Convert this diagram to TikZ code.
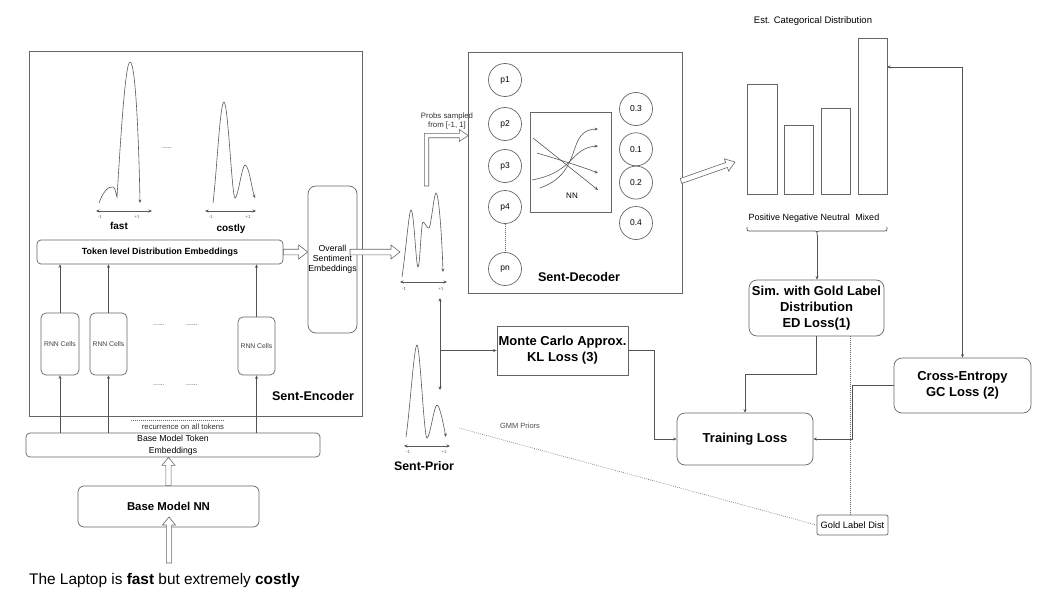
\documentclass[tikz,border=0pt]{standalone}
\usepackage{fontspec}
\setmainfont{Liberation Sans}
\usetikzlibrary{arrows.meta,calc}
\newcommand\myfs[2]{\fontsize{#1}{#2}\selectfont}
% hollow (outlined) arrow: start, end, shaft half width, head half width, head length
\newcommand\hollowarrow[5]{%
  \draw[hollow] let \p1=(#1), \p2=(#2),
      \n1={atan2(\y2-\y1,\x2-\x1)}, \n2={veclen(\x2-\x1,\y2-\y1)-#5pt} in
    ($(\p1)+(\n1+90:#3pt)$) -- ++(\n1:\n2) -- ++(\n1+90:#4pt-#3pt) -- (\p2)
    -- ($(\p2)+(\n1+180:#5pt)+(\n1-90:#4pt)$) -- ++(\n1+90:#4pt-#3pt)
    -- ++(\n1+180:\n2) -- cycle;}
\begin{document}
\begin{tikzpicture}[x=1pt,y=-1pt,
  cbox/.style={draw=black!60, line width=0.7pt, inner sep=0pt, align=center},
  conn/.style={draw=black!68, line width=0.7pt},
  arr/.style={-{Stealth[length=3.5pt,width=3pt]}},
  biarr/.style={{Stealth[length=3.5pt,width=3pt]}-{Stealth[length=3.5pt,width=3pt]}},
  dist/.style={draw=black!65, line width=0.6pt},
  hollow/.style={draw=black!60, fill=white, line width=0.6pt, line join=miter},
  dotline/.style={draw=black!60, line width=0.6pt, dash pattern=on 0.7pt off 1.3pt},
  axl/.style={font=\myfs{4.5}{5}, text=black!60, inner sep=0pt},
  circ/.style={draw=black!60, line width=0.7pt, circle, minimum size=33pt, inner sep=0pt, font=\myfs{8.5}{10}},
  bold13/.style={font=\bfseries\myfs{13}{16}},
  small/.style={font=\myfs{7}{8}, text=black!70, inner sep=0pt},
]
\fill[white] (0,0) rectangle (1053,610);
\useasboundingbox (0,0) rectangle (1053,610);

% ---------------- Sent-Encoder ----------------
\node[cbox, minimum width=333pt, minimum height=365pt] (enc) at (195.5,233.5) {};
\node[font=\bfseries\myfs{12.6}{15}] (enclab) at (313,396) {Sent-Encoder};

% token distributions
\draw[dist,arr] (99,203) .. controls (103,192) and (108,186) .. (113,187)
  .. controls (116,188) and (116,196) .. (117,197)
  .. controls (120,150) and (125,62) .. (130,62)
  .. controls (136,62) and (139,150) .. (140,203);
\draw[dist,biarr] (96,211) -- (152,211);
\node[axl] at (100,217) {-1};
\node[axl] at (137,217) {+1};
\node[font=\bfseries\myfs{10}{12}] (fastl) at (119,226) {fast};

\node[small] (dots0) at (167,148) {.....};

\draw[dist,arr] (213,203) .. controls (217,170) and (220,102) .. (224,102)
  .. controls (228,102) and (232,198) .. (235,198)
  .. controls (238,198) and (242,165) .. (245,165)
  .. controls (249,165) and (252,190) .. (255,198);
\draw[dist,biarr] (205,211) -- (256,211);
\node[axl] at (211,217) {-1};
\node[axl] at (248,217) {+1};
\node[font=\bfseries\myfs{10}{12}] (costlyl) at (231,229) {costly};

\node[cbox, rounded corners=4pt, minimum width=246pt, minimum height=24pt,
      font=\bfseries\myfs{8.9}{11}] (token) at (160,252) {Token level Distribution Embeddings};

\node[cbox, rounded corners=8pt, minimum width=49pt, minimum height=147pt,
      font=\myfs{8.7}{10}] (overall) at (332.5,259.5) {Overall\\Sentiment\\Embeddings};

% RNN cells
\node[cbox, rounded corners=5pt, minimum width=38pt, minimum height=62pt, font=\myfs{6.8}{8}, text=black!75] (rnn1) at (60,344) {RNN Cells};
\node[cbox, rounded corners=5pt, minimum width=37pt, minimum height=62pt, font=\myfs{6.8}{8}, text=black!75] (rnn2) at (108.5,344) {RNN Cells};
\node[cbox, rounded corners=5pt, minimum width=37pt, minimum height=58pt, font=\myfs{6.8}{8}, text=black!75] (rnn3) at (256.5,346) {RNN Cells};
\node[small] (d1) at (159,325) {......};
\node[small] (d2) at (192,325) {......};
\node[small] (d3) at (159,385) {......};
\node[small] (d4) at (192,385) {......};

% base model
\node[cbox, rounded corners=4pt, minimum width=294pt, minimum height=24pt,
      font=\myfs{8.7}{12}] (basetok) at (173,445) {Base Model Token\\Embeddings};
\node[cbox, rounded corners=6pt, minimum width=181pt, minimum height=41pt,
      font=\bfseries\myfs{11.4}{13}] (basenn) at (168.5,506.5) {Base Model NN};

\draw[dotline] (131,420) -- (224,420);
\node[font=\myfs{7.7}{9}, text=black!80, inner sep=0pt] (rec) at (183,427) {recurrence on all tokens};

\foreach \r in {rnn1,rnn2,rnn3}{
  \draw[conn,arr] (basetok.north -| \r) -- (\r.south);
  \draw[conn,arr] (\r.north) -- (\r.north |- token.south);
}

\node[anchor=west, inner sep=0pt, font=\myfs{15.4}{18}] (sent) at (29,581)
  {The Laptop is \textbf{fast} but extremely \textbf{costly}};
\coordinate (s1) at (169,563);
\coordinate (s2) at (169,517);
\hollowarrow{s1}{s2}{2.6}{6.5}{8}
\hollowarrow{basenn.north}{basenn.north |- basetok.south}{2.6}{6.5}{8}
\hollowarrow{token.east}{token.east -| overall.west}{2.8}{7}{9}

% ---------------- encoder output distribution ----------------
\coordinate (ov) at (350,252);
\coordinate (dl) at (400,252);
\hollowarrow{ov}{dl}{2.8}{7}{9}
\draw[dist,arr] (402,277) .. controls (406,250) and (409,210) .. (411,210)
  .. controls (414,210) and (416,267) .. (418,267)
  .. controls (420,267) and (421,222) .. (423,222)
  .. controls (425,222) and (427,229) .. (429,228)
  .. controls (431,227) and (434,193) .. (436,193)
  .. controls (439,193) and (442,240) .. (443,272);
\draw[dist,biarr] (400,282) -- (447,282);
\node[axl] at (404,289) {-1};
\node[axl] at (441,289) {+1};

% bent hollow arrow into decoder
\draw[hollow] (424.3,186) -- (424.3,133.3) -- (459.3,133.3) -- (459.3,129.5) -- (468.3,135.5)
  -- (459.3,141.5) -- (459.3,137.7) -- (428.7,137.7) -- (428.7,186) -- cycle;
\node[font=\myfs{7.8}{9}, text=black!80, align=center, inner sep=0pt] (probs) at (447,120.5) {Probs sampled\\from [-1, 1]};

% ---------------- Sent-Decoder ----------------
\node[cbox, minimum width=214pt, minimum height=241pt] (dec) at (575,172.5) {};
\node[font=\bfseries\myfs{12.6}{15}] (declab) at (579,277) {Sent-Decoder};
\node[circ] (p1) at (505,80) {p1};
\node[circ] (p2) at (505,124) {p2};
\node[circ] (p3) at (505,166) {p3};
\node[circ] (p4) at (505,207) {p4};
\node[circ] (pn) at (505,269) {pn};
\draw[dotline] (p4.south) -- (pn.north);
\node[circ] (o1) at (636,109) {0.3};
\node[circ] (o2) at (636,149.3) {0.1};
\node[circ] (o3) at (636,182.6) {0.2};
\node[circ] (o4) at (636,223) {0.4};
\node[cbox, minimum width=81pt, minimum height=100pt] (nn) at (570.5,162) {};
\node[font=\myfs{8}{10}] (nnl) at (572,196) {NN};
\draw[dist,arr] (533,138) -- (598,190);
\draw[dist,arr] (537,153) .. controls (560,160) and (580,166) .. (598,173);
\draw[dist,arr] (532,180) .. controls (575,172) and (570,148) .. (598,146);
\draw[dist,arr] (540,188) .. controls (585,172) and (565,130) .. (598,129);

\coordinate (dx1) at (681,181);
\coordinate (dx2) at (735,162);
\hollowarrow{dx1}{dx2}{2.6}{6.5}{9}

% ---------------- categorical distribution ----------------
\node[font=\myfs{9.5}{11}] (estl) at (813,21) {Est. Categorical Distribution};
\node[cbox, minimum width=30pt, minimum height=110pt] (bar1) at (762,139) {};
\node[cbox, minimum width=29pt, minimum height=69pt] (bar2) at (798.5,159.5) {};
\node[cbox, minimum width=29pt, minimum height=86pt] (bar3) at (835.5,151) {};
\node[cbox, minimum width=29pt, minimum height=156pt] (bar4) at (872.5,116) {};
\node[font=\myfs{9}{11}] (cats) at (814,218) {Positive Negative Neutral\hspace{3pt} Mixed};
\draw[conn] (747,227) .. controls (747,231) .. (751,231) -- (813,231)
  .. controls (817,231) .. (817,235) .. controls (817,231) .. (821,231) -- (883,231)
  .. controls (887,231) .. (887,227);
\coordinate (brtip) at (817,235);

% ---------------- losses ----------------
\node[cbox, rounded corners=8pt, minimum width=135pt, minimum height=56pt, bold13]
  (sim) at (816.5,308) {Sim. with Gold Label\\Distribution\\ED Loss(1)};
\node[cbox, minimum width=131pt, minimum height=49pt, bold13]
  (mc) at (562.5,350.5) {Monte Carlo Approx.\\KL Loss (3)};
\node[cbox, rounded corners=8pt, minimum width=136pt, minimum height=52pt, bold13]
  (train) at (745,439) {Training Loss};
\node[cbox, rounded corners=8pt, minimum width=137pt, minimum height=55pt, bold13]
  (ce) at (962.5,385.5) {Cross-Entropy\\GC Loss (2)};
\node[cbox, rounded corners=2pt, minimum width=71pt, minimum height=20pt, font=\myfs{9.3}{11}]
  (gold) at (852.5,525) {Gold Label Dist};

\draw[conn,arr] (brtip) -- (brtip |- sim.north);
\coordinate (mx) at (887,67);
\draw[conn,biarr] (mx) -| (ce.north);
\draw[conn,arr] (sim.south) -- ++(0,38) -| (train.north);
\draw[conn,arr] (ce.west) -- ++(-41,0) |- (train.east);
\draw[conn,arr] (mc.east) -- ++(26,0) |- (train.west);
\coordinate (gd) at (850,525);
\draw[dotline] (gd |- gold.north) -- (gd |- sim.south);

% ---------------- Sent-Prior ----------------
\draw[dist,arr] (406,437) .. controls (410,410) and (414,345) .. (417,345)
  .. controls (420,345) and (424,438) .. (427,438)
  .. controls (430,438) and (434,405) .. (437,405)
  .. controls (440,405) and (444,428) .. (446,437);
\draw[dist,biarr] (404,446) -- (450,446);
\node[axl] at (408,452) {-1};
\node[axl] at (444,452) {+1};
\node[font=\bfseries\myfs{12.4}{15}] (prior) at (424,466) {Sent-Prior};

\coordinate (vtop) at (440,298);
\coordinate (vbot) at (440,390);
\draw[conn,biarr] (vtop) -- (vbot);
\draw[conn,arr] (vtop |- mc.west) -- (mc.west);

\coordinate (prr) at (459,428);
\draw[dotline] (prr) -- (gold.west);
\node[font=\myfs{7.5}{9}, text=black!70] (gmm) at (520,426) {GMM Priors};

\end{tikzpicture}
\end{document}
